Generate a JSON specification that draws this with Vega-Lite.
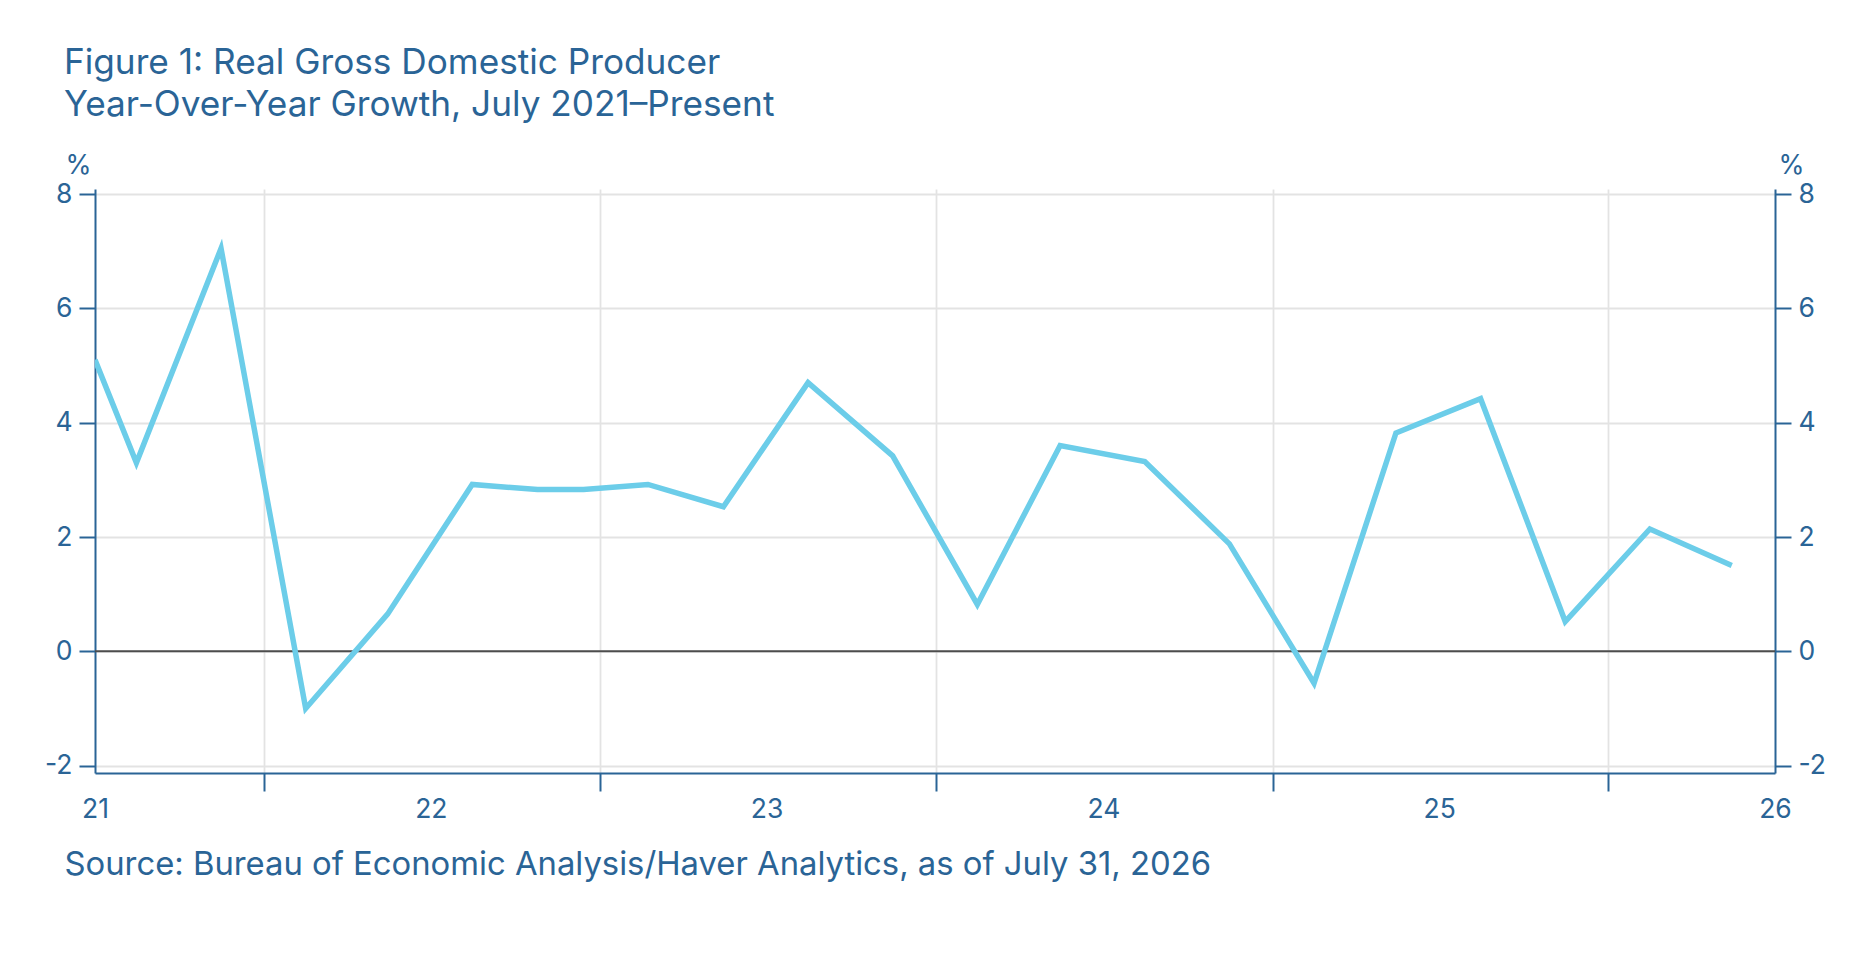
{
  "$schema": "https://vega.github.io/schema/vega-lite/v6.json",
  "description": "Real Gross Domestic Producer, year-over-year growth, July 2021 to present.",
  "width": 1680,
  "height": 584,
  "autosize": {"type": "none"},
  "padding": {"left": 95, "top": 189, "right": 87, "bottom": 181},
  "background": "white",
  "title": {
    "text": ["Figure 1: Real Gross Domestic Producer", "Year-Over-Year Growth, July 2021–Present"],
    "anchor": "start",
    "frame": "group",
    "dx": -31,
    "offset": 29,
    "font": "Inter",
    "fontSize": 35.2,
    "fontWeight": "normal",
    "lineHeight": 42,
    "color": "#2a6496"
  },
  "layer": [
    {
      "data": {"values": [{"zero": 0}]},
      "mark": {"type": "rule", "color": "#4d4d4d", "strokeWidth": 2},
      "encoding": {
        "y": {
          "field": "zero",
          "type": "quantitative",
          "scale": {"domain": [-2.13, 8.09], "nice": false, "zero": false},
          "axis": {
            "orient": "right",
            "values": [-2, 0, 2, 4, 6, 8],
            "grid": false,
            "title": "%",
            "titleAngle": 0,
            "titleX": 16,
            "titleY": -16,
            "titleAlign": "center",
            "titleBaseline": "alphabetic"
          }
        }
      }
    },
    {
      "data": {
        "values": [
          {"date": "2021-07-01", "growth": 5.1},
          {"date": "2021-08-15", "growth": 3.3},
          {"date": "2021-11-15", "growth": 7.05},
          {"date": "2022-02-15", "growth": -1.0},
          {"date": "2022-05-15", "growth": 0.65},
          {"date": "2022-08-15", "growth": 2.92},
          {"date": "2022-10-25", "growth": 2.83},
          {"date": "2022-12-14", "growth": 2.83},
          {"date": "2023-02-22", "growth": 2.92},
          {"date": "2023-05-15", "growth": 2.53},
          {"date": "2023-08-15", "growth": 4.7},
          {"date": "2023-11-15", "growth": 3.42},
          {"date": "2024-02-15", "growth": 0.82},
          {"date": "2024-05-15", "growth": 3.6},
          {"date": "2024-08-15", "growth": 3.32},
          {"date": "2024-11-15", "growth": 1.88},
          {"date": "2025-02-15", "growth": -0.56},
          {"date": "2025-05-15", "growth": 3.82},
          {"date": "2025-08-15", "growth": 4.42},
          {"date": "2025-11-15", "growth": 0.52},
          {"date": "2026-02-15", "growth": 2.14},
          {"date": "2026-05-15", "growth": 1.5}
        ]
      },
      "mark": {"type": "line", "color": "#6ccde9", "strokeWidth": 5.5, "strokeJoin": "miter", "clip": true},
      "encoding": {
        "x": {
          "field": "date",
          "type": "temporal",
          "scale": {
            "domain": [
              {"year": 2021, "month": 7, "date": 1},
              {"year": 2026, "month": 7, "date": 1}
            ],
            "nice": false
          },
          "axis": {
            "values": [
              {"year": 2021, "month": 7, "date": 1},
              {"year": 2022, "month": 1, "date": 1},
              {"year": 2022, "month": 7, "date": 1},
              {"year": 2023, "month": 1, "date": 1},
              {"year": 2023, "month": 7, "date": 1},
              {"year": 2024, "month": 1, "date": 1},
              {"year": 2024, "month": 7, "date": 1},
              {"year": 2025, "month": 1, "date": 1},
              {"year": 2025, "month": 7, "date": 1},
              {"year": 2026, "month": 1, "date": 1},
              {"year": 2026, "month": 7, "date": 1}
            ],
            "format": "%y",
            "labelExpression": "timeFormat(datum.value, '%y')",
            "labelOpacity": {"condition": {"test": "month(datum.value) == 6", "value": 1}, "value": 0},
            "labelFlush": false,
            "labelOverlap": false,
            "labelPadding": 5,
            "tickSize": 18,
            "tickOpacity": {"condition": {"test": "month(datum.value) == 0", "value": 1}, "value": 0},
            "grid": true,
            "gridOpacity": {"condition": {"test": "month(datum.value) == 0", "value": 1}, "value": 0},
            "title": "Source: Bureau of Economic Analysis/Haver Analytics, as of July 31, 2026",
            "titleFontSize": 32.8,
            "titleX": -31,
            "titleY": 101,
            "titleAlign": "left",
            "titleAnchor": "start",
            "titleBaseline": "alphabetic"
          }
        },
        "y": {
          "field": "growth",
          "type": "quantitative",
          "axis": {
            "orient": "left",
            "values": [-2, 0, 2, 4, 6, 8],
            "grid": true,
            "title": "%",
            "titleAngle": 0,
            "titleX": -17,
            "titleY": -16,
            "titleAlign": "center",
            "titleBaseline": "alphabetic"
          }
        }
      }
    }
  ],
  "resolve": {"axis": {"y": "independent"}},
  "config": {
    "locale": {
      "number": {"decimal": ".", "thousands": ",", "grouping": [3], "currency": ["$", ""], "minus": "-"}
    },
    "view": {"stroke": null},
    "font": "Inter",
    "axis": {
      "domainColor": "#2a6496",
      "domainWidth": 2,
      "tickColor": "#2a6496",
      "tickWidth": 2,
      "tickSize": 16,
      "gridColor": "#e3e3e3",
      "gridWidth": 1.8,
      "labelFont": "Inter",
      "labelFontSize": 26.5,
      "labelColor": "#2a6496",
      "labelPadding": 7,
      "titleFont": "Inter",
      "titleFontSize": 26.5,
      "titleFontWeight": "normal",
      "titleColor": "#2a6496"
    }
  }
}
